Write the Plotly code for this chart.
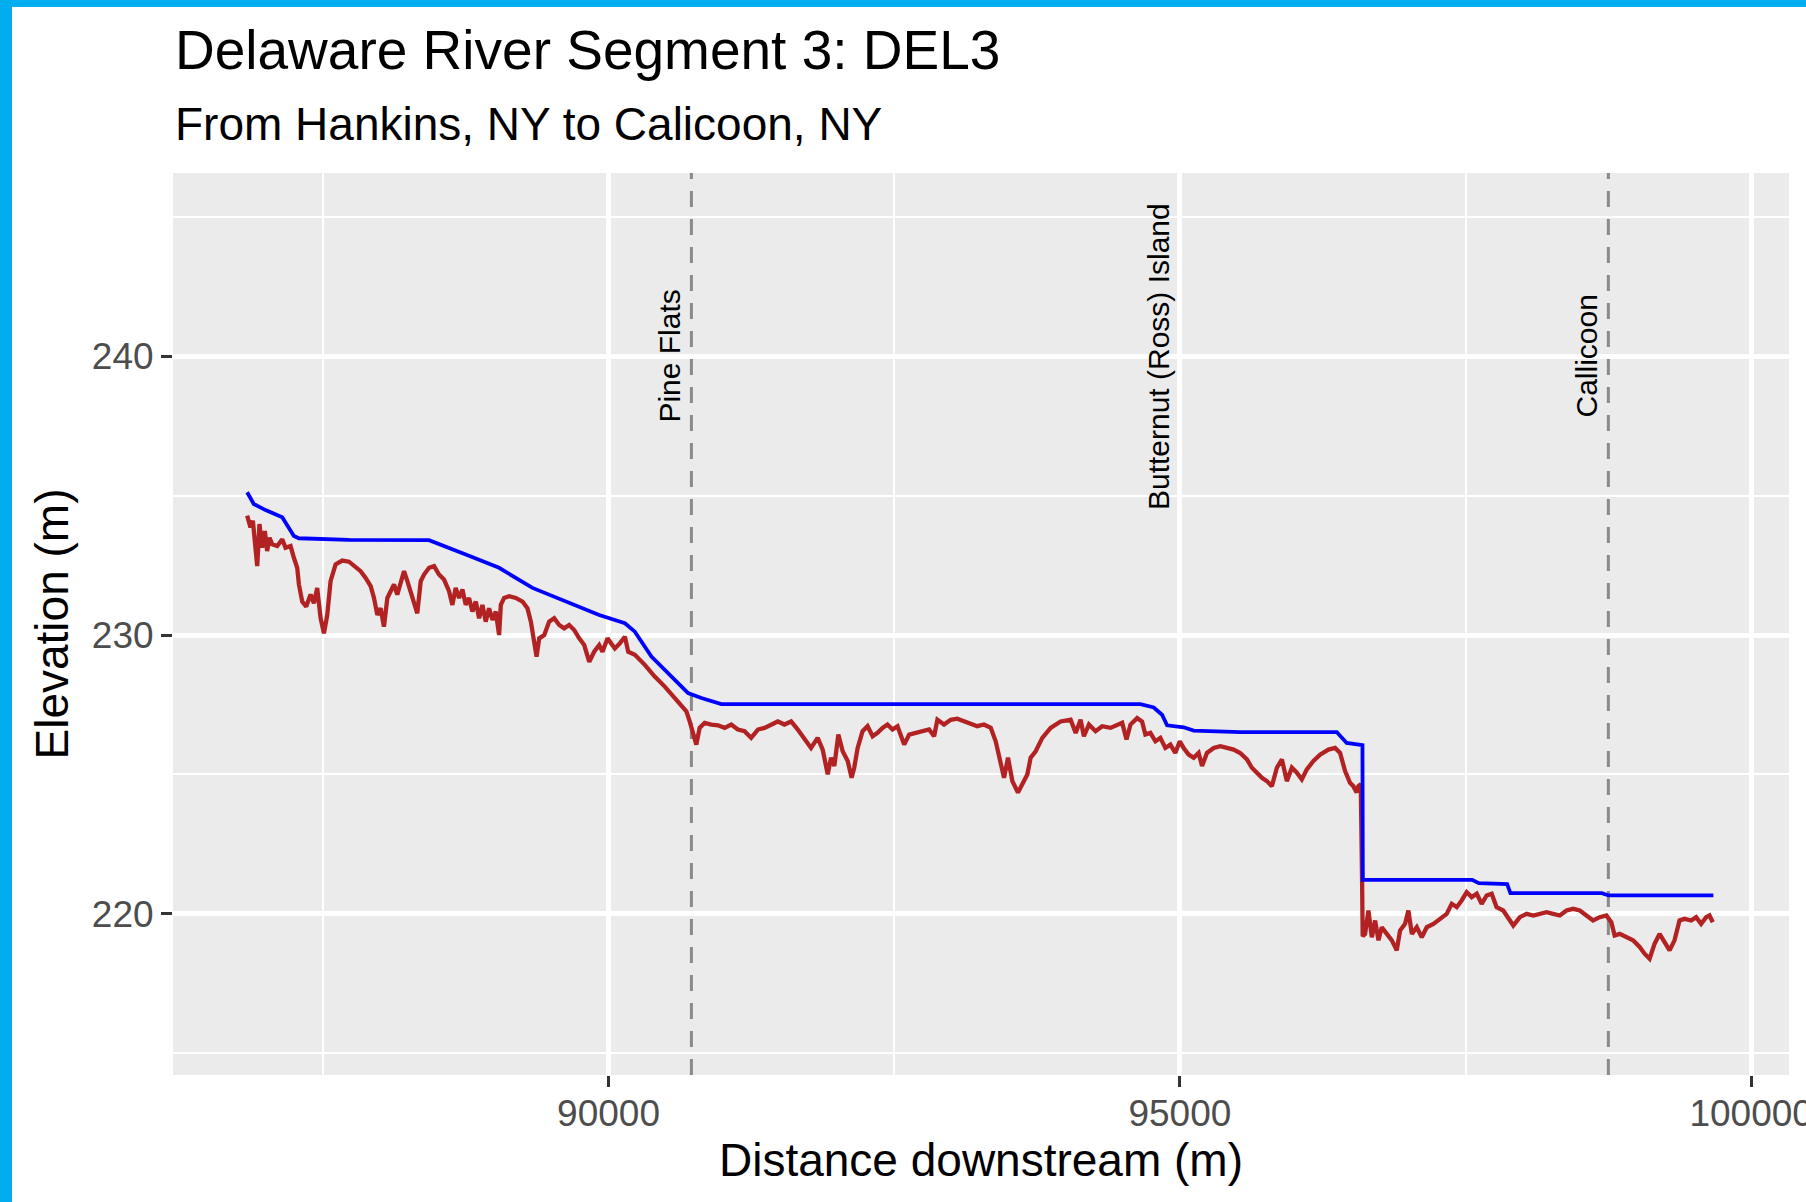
import plotly.graph_objects as go

# ---------------- data ----------------
wse_dist = [86837, 86895, 86998, 87144, 87246, 87290, 87728, 88429, 88750, 89042,
            89334, 89626, 89918, 90143, 90230, 90375, 90521, 90696, 90812, 90987,
            94655, 94771, 94844, 94888, 95033, 95121, 95528, 96373, 96460, 96577,
            96598, 96601, 97558, 97617, 97864, 97893, 98694, 98752, 99669]
wse_elev = [235.12, 234.70, 234.48, 234.22, 233.55, 233.47, 233.41, 233.40, 232.89, 232.41,
            231.69, 231.20, 230.72, 230.42, 230.12, 229.23, 228.63, 227.92, 227.74, 227.52,
            227.52, 227.40, 227.14, 226.76, 226.69, 226.57, 226.52, 226.52, 226.13, 226.05,
            226.05, 221.22, 221.22, 221.10, 221.07, 220.74, 220.74, 220.66, 220.66]

bed_dist = [86837, 86866, 86887, 86910, 86925, 86945, 86968, 86992, 87012, 87033,
            87056, 87100, 87144, 87173, 87217, 87246, 87275, 87290, 87319, 87354,
            87392, 87421, 87450, 87480, 87509, 87538, 87567, 87611, 87669, 87728,
            87786, 87830, 87874, 87918, 87947, 87976, 88005, 88034, 88064, 88093,
            88122, 88151, 88180, 88210, 88239, 88268, 88297, 88326, 88356, 88385,
            88429, 88473, 88516, 88560, 88604, 88633, 88662, 88692, 88721, 88750,
            88779, 88808, 88838, 88867, 88896, 88925, 88954, 88984, 89013, 89042,
            89057, 89086, 89130, 89188, 89247, 89290, 89320, 89349, 89370, 89393,
            89437, 89480, 89524, 89568, 89612, 89655, 89699, 89743, 89787, 89831,
            89874, 89918, 89947, 89991, 90055, 90099, 90143, 90172, 90230, 90317,
            90404, 90492, 90579, 90637, 90681, 90710, 90739, 90768, 90797, 90841,
            90899, 90957, 91016, 91074, 91132, 91190, 91248, 91307, 91365, 91423,
            91481, 91539, 91598, 91656, 91714, 91772, 91830, 91874, 91918, 91947,
            91976, 92011, 92049, 92093, 92127, 92150, 92180, 92223, 92267, 92311,
            92354, 92398, 92441, 92485, 92529, 92587, 92631, 92689, 92747, 92805,
            92849, 92878, 92936, 92994, 93052, 93111, 93169, 93227, 93285, 93345,
            93388, 93432, 93461, 93496, 93534, 93583, 93622, 93665, 93694, 93738,
            93796, 93869, 93956, 94044, 94088, 94131, 94160, 94204, 94262, 94320,
            94393, 94451, 94495, 94533, 94568, 94626, 94669, 94698, 94742, 94786,
            94829, 94873, 94917, 94960, 94999, 95033, 95077, 95121, 95164, 95194,
            95237, 95296, 95354, 95412, 95470, 95528, 95587, 95630, 95674, 95718,
            95762, 95805, 95849, 95893, 95936, 95980, 96024, 96067, 96111, 96169,
            96227, 96300, 96358, 96402, 96446, 96489, 96518, 96547, 96562, 96583,
            96595, 96600, 96621, 96650, 96680, 96709, 96738, 96767, 96811, 96855,
            96898, 96927, 96971, 97000, 97030, 97073, 97117, 97161, 97219, 97277,
            97335, 97379, 97423, 97466, 97510, 97554, 97598, 97641, 97685, 97729,
            97772, 97830, 97874, 97918, 97976, 98034, 98093, 98151, 98209, 98267,
            98325, 98384, 98442, 98500, 98558, 98616, 98674, 98733, 98776, 98805,
            98849, 98907, 98966, 99024, 99067, 99111, 99155, 99198, 99242, 99286,
            99329, 99373, 99417, 99475, 99518, 99562, 99606, 99635, 99664]
bed_elev = [234.28, 233.86, 234.10, 233.01, 232.47, 233.98, 233.13, 233.73, 233.01, 233.49,
            233.25, 233.19, 233.43, 233.13, 233.19, 232.77, 232.41, 231.81, 231.20, 231.02,
            231.45, 231.14, 231.69, 230.60, 230.06, 230.72, 231.93, 232.53, 232.67, 232.63,
            232.41, 232.29, 232.05, 231.75, 231.33, 230.72, 230.96, 230.30, 231.33, 231.57,
            231.81, 231.45, 231.93, 232.29, 231.93, 231.57, 231.20, 230.78, 231.93, 232.17,
            232.41, 232.47, 232.17, 231.99, 231.57, 231.08, 231.69, 231.33, 231.63, 231.08,
            231.33, 230.84, 231.20, 230.60, 231.08, 230.48, 230.96, 230.54, 230.84, 230.00,
            231.08, 231.33, 231.39, 231.33, 231.20, 230.96, 230.48, 229.64, 229.22, 229.88,
            230.00, 230.48, 230.60, 230.36, 230.24, 230.36, 230.18, 229.88, 229.64, 229.04,
            229.40, 229.64, 229.40, 229.88, 229.52, 229.70, 229.94, 229.40, 229.29, 228.93,
            228.51, 228.15, 227.74, 227.44, 227.26, 226.90, 226.43, 226.07, 226.67, 226.85,
            226.79, 226.76, 226.67, 226.79, 226.61, 226.55, 226.31, 226.61, 226.67, 226.79,
            226.90, 226.79, 226.90, 226.61, 226.31, 225.95, 226.31, 225.89, 225.00, 225.60,
            225.30, 226.43, 225.83, 225.48, 224.88, 225.24, 225.95, 226.55, 226.73, 226.37,
            226.49, 226.67, 226.79, 226.61, 226.73, 226.07, 226.43, 226.49, 226.55, 226.61,
            226.37, 226.96, 226.79, 226.96, 227.00, 226.90, 226.79, 226.73, 226.79, 226.67,
            226.19, 225.48, 224.88, 225.60, 224.76, 224.35, 224.70, 225.00, 225.60, 225.83,
            226.31, 226.67, 226.90, 226.96, 226.49, 226.96, 226.37, 226.79, 226.55, 226.73,
            226.67, 226.79, 226.85, 226.25, 226.79, 227.02, 226.90, 226.43, 226.49, 226.19,
            226.31, 225.95, 226.07, 225.77, 226.19, 225.95, 225.71, 225.60, 225.77, 225.30,
            225.77, 225.95, 226.01, 225.95, 225.89, 225.77, 225.54, 225.24, 225.06, 224.88,
            224.76, 224.58, 225.24, 225.54, 224.76, 225.24, 225.06, 224.82, 225.18, 225.48,
            225.71, 225.89, 225.95, 225.77, 225.12, 224.70, 224.58, 224.35, 224.58, 224.65,
            221.10, 219.20, 219.28, 220.12, 219.16, 219.76, 219.05, 219.52, 219.28, 219.05,
            218.69, 219.40, 219.64, 220.12, 219.28, 219.52, 219.16, 219.52, 219.64, 219.82,
            220.00, 220.36, 220.24, 220.48, 220.78, 220.60, 220.72, 220.36, 220.66, 220.72,
            220.24, 220.12, 219.82, 219.58, 219.88, 220.00, 219.94, 220.00, 220.06, 220.00,
            219.94, 220.12, 220.18, 220.12, 219.94, 219.76, 219.88, 219.94, 219.70, 219.22,
            219.28, 219.16, 219.05, 218.81, 218.57, 218.39, 218.93, 219.28, 218.99, 218.69,
            219.05, 219.76, 219.82, 219.76, 219.88, 219.64, 219.88, 219.94, 219.70]

landmark_names = ["Pine Flats", "Butternut (Ross) Island", "Callicoon"]
landmark_dist = [90725, 95000, 98750]
label_elev = 240

x_ticks = [90000, 95000, 100000]
y_ticks = [220, 230, 240]

title_text = "Delaware River Segment 3: DEL3"
subtitle_text = "From Hankins, NY to Calicoon, NY"

# ---------------- figure ----------------
W, H = 1806, 1202
ML, MR, MT, MB = 173, 17, 173, 127
PW, PH = W - ML - MR, H - MT - MB
FONT = "Liberation Sans, Arial, sans-serif"


def px_x(p):
    return (p - ML) / PW


def px_y(p):
    return 1 + (MT - p) / PH


fig = go.Figure()

for name, d in zip(landmark_names, landmark_dist):
    fig.add_shape(type="line", xref="x", yref="paper", x0=d, x1=d, y0=0, y1=1,
                  line=dict(color="#8A8A8A", width=3, dash="16px,12px"), layer="below")
    fig.add_annotation(x=d, y=label_elev, xref="x", yref="y", text=name, textangle=-90,
                       showarrow=False, xanchor="center", yanchor="middle", xshift=-22,
                       font=dict(family=FONT, size=30, color="#000000"))

fig.add_trace(go.Scatter(x=bed_dist, y=bed_elev, mode="lines", name="Bed",
                         line=dict(color="#B22222", width=4.3), showlegend=False))
fig.add_trace(go.Scatter(x=wse_dist, y=wse_elev, mode="lines", name="Water surface",
                         line=dict(color="#0000FF", width=3.8), showlegend=False))

# blue frame (top and left edges of the screenshot)
frame_blue = "#00AEEF"
fig.add_shape(type="rect", xref="paper", yref="paper", x0=px_x(0), x1=px_x(W),
              y0=px_y(7), y1=px_y(0), fillcolor=frame_blue, line=dict(width=0), layer="above")
fig.add_shape(type="rect", xref="paper", yref="paper", x0=px_x(0), x1=px_x(12),
              y0=px_y(H), y1=px_y(0), fillcolor=frame_blue, line=dict(width=0), layer="above")

fig.add_annotation(text=title_text, xref="paper", yref="paper", x=px_x(173), y=px_y(50),
                   xanchor="left", yanchor="middle", showarrow=False,
                   font=dict(family=FONT, size=55, color="#000000"))
fig.add_annotation(text=subtitle_text, xref="paper", yref="paper", x=px_x(173), y=px_y(124),
                   xanchor="left", yanchor="middle", showarrow=False,
                   font=dict(family=FONT, size=46, color="#000000"))

fig.update_layout(
    width=W, height=H,
    margin=dict(l=ML, r=MR, t=MT, b=MB, pad=0),
    paper_bgcolor="white", plot_bgcolor="#EBEBEB",
    showlegend=False,
    font=dict(family=FONT),
)
fig.update_xaxes(
    range=[86188, 100331], tickvals=x_ticks, ticktext=[str(v) for v in x_ticks],
    showgrid=True, gridcolor="white", gridwidth=4.5, zeroline=False, showline=False,
    ticks="outside", ticklen=11, tickwidth=2.5, tickcolor="#333333",
    tickfont=dict(family=FONT, size=37, color="#4D4D4D"), ticklabelstandoff=-5,
    ticklabeloverflow="allow", automargin="bottom",
    minor=dict(showgrid=True, gridcolor="white", gridwidth=2.2, tick0=87500, dtick=5000),
    title=dict(text="Distance downstream (m)", font=dict(family=FONT, size=46, color="#000000"),
               standoff=8),
)
fig.update_yaxes(
    range=[214.22, 246.57], tickvals=y_ticks, ticktext=[str(v) for v in y_ticks],
    showgrid=True, gridcolor="white", gridwidth=4.5, zeroline=False, showline=False,
    ticks="outside", ticklen=11, tickwidth=2.5, tickcolor="#333333",
    tickfont=dict(family=FONT, size=37, color="#4D4D4D"), ticklabelstandoff=0,
    automargin="left",
    minor=dict(showgrid=True, gridcolor="white", gridwidth=2.2, tick0=215, dtick=10),
    title=dict(text="Elevation (m)", font=dict(family=FONT, size=46, color="#000000"),
               standoff=8),
)

fig.write_html("out.html", config={"displayModeBar": False},
               post_script="document.body.style.margin='0px';document.body.style.overflow='hidden';")
